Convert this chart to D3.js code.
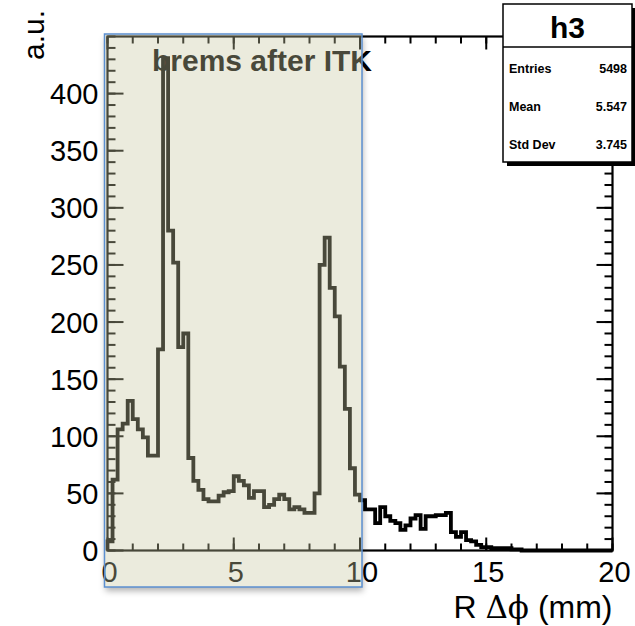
<!DOCTYPE html>
<html><head><meta charset="utf-8">
<script src="https://cdn.jsdelivr.net/npm/d3@7"></script>
<style>body{margin:0;background:#fff} svg{display:block}</style>
</head><body>
<svg id="c" width="635" height="626"></svg>
<script>
// ---- data ----
const histName = "h3";
const histTitle = "brems after ITK";
const yTitle = "a.u.";
const xRange = [0, 20];
const yRange = [0, 450];
const counts = [
  8, 62, 106, 111, 131, 115, 106, 99, 83, 83,
  176, 431, 280, 252, 178, 190, 81, 61, 53, 45,
  43, 43, 48, 51, 52, 65, 61, 57, 46, 52,
  52, 38, 40, 45, 49, 45, 36, 38, 36, 33,
  33, 50, 250, 274, 230, 205, 161, 124, 72, 49,
  44, 36, 36, 24, 38, 30, 26, 24, 18, 22,
  28, 31, 19, 30, 30, 31, 31, 33, 16, 12,
  16, 9, 8, 5, 3, 3, 2, 2, 2, 2,
  1, 1, 0, 0, 0, 0, 0, 0, 0, 0,
  0, 0, 0, 0, 0, 0, 0, 0, 0, 0
];
const xTicks = [0, 5, 10, 15, 20];
const xMinorTicks = d3.range(0, 21, 1);
const yTicks = [0, 50, 100, 150, 200, 250, 300, 350, 400];
const yMinorTicks = d3.range(0, 451, 10);
const statLabels = ["Entries", "Mean", "Std Dev"];
const statValues = ["5498", "5.547", "3.745"];
const bandX = [0, 10];

// ---- layout ----
const L = 107.5, R = 612.5, T = 36.5, B = 550.5;
const svg = d3.select("#c");
const x = d3.scaleLinear().domain(xRange).range([L, R]);
const y = d3.scaleLinear().domain(yRange).range([B, T]);
const font = "'Liberation Sans', Arial, Helvetica, sans-serif";

// title
svg.append("text").attr("x", 262).attr("y", 71).attr("text-anchor", "middle")
  .attr("font-family", font).attr("font-weight", "bold").attr("font-size", 30)
  .attr("fill", "#000").text(histTitle);

// histogram
const bw = (xRange[1] - xRange[0]) / counts.length;
const pts = [[xRange[0], 0]].concat(counts.map((c, i) => [xRange[0] + i * bw, c]));
pts.push([xRange[1], counts[counts.length - 1]]);
const line = d3.line().x(d => x(d[0])).y(d => y(d[1])).curve(d3.curveStepAfter);
svg.append("path").attr("d", line(pts)).attr("fill", "none")
  .attr("stroke", "#000").attr("stroke-width", 3.8).attr("stroke-linejoin", "miter");

// frame
svg.append("rect").attr("x", L).attr("y", T).attr("width", R - L).attr("height", B - T)
  .attr("fill", "none").attr("stroke", "#000").attr("stroke-width", 2.2);

function ticks(g, vals, len, orient) {
  g.selectAll("line").data(vals).join("line")
    .attr("stroke", "#000").attr("stroke-width", 2)
    .each(function (v) {
      const s = d3.select(this);
      if (orient === "b") s.attr("x1", x(v)).attr("x2", x(v)).attr("y1", B).attr("y2", B - len);
      if (orient === "t") s.attr("x1", x(v)).attr("x2", x(v)).attr("y1", T).attr("y2", T + len);
      if (orient === "l") s.attr("y1", y(v)).attr("y2", y(v)).attr("x1", L).attr("x2", L + len);
      if (orient === "r") s.attr("y1", y(v)).attr("y2", y(v)).attr("x1", R).attr("x2", R - len);
    });
}
ticks(svg.append("g"), xMinorTicks, 7, "b");
ticks(svg.append("g"), xTicks, 13, "b");
ticks(svg.append("g"), xMinorTicks, 7, "t");
ticks(svg.append("g"), xTicks, 13, "t");
ticks(svg.append("g"), yMinorTicks, 8, "l");
ticks(svg.append("g"), yTicks, 16, "l");
ticks(svg.append("g"), yMinorTicks, 8, "r");
ticks(svg.append("g"), yTicks, 16, "r");

// tick labels
svg.append("g").selectAll("text").data(yTicks).join("text")
  .attr("x", L - 9).attr("y", d => y(d) + 10.5).attr("text-anchor", "end")
  .attr("font-family", font).attr("font-size", 29).text(d => d);
svg.append("g").selectAll("text").data(xTicks).join("text")
  .attr("x", d => x(d) + 2).attr("y", B + 31).attr("text-anchor", "middle")
  .attr("font-family", font).attr("font-size", 29).text(d => d);

// axis titles
const xt = svg.append("text").attr("x", R).attr("y", 618).attr("text-anchor", "end")
  .attr("font-family", font).attr("font-size", 32);
xt.append("tspan").text("R ");
xt.append("tspan").attr("font-family", "'DejaVu Serif', 'Liberation Serif', serif").attr("font-size", 31).text("Δϕ");
xt.append("tspan").text(" (mm)");
svg.append("text").attr("transform", "translate(44,10) rotate(-90)").attr("text-anchor", "end")
  .attr("font-family", font).attr("font-size", 30).text(yTitle);

// stats box
const sx = 503, sy = 4, sw = 129, sh = 158;
svg.append("rect").attr("x", sx + 4).attr("y", sy + 4).attr("width", sw).attr("height", sh).attr("fill", "#000");
svg.append("rect").attr("x", sx).attr("y", sy).attr("width", sw).attr("height", sh)
  .attr("fill", "#fff").attr("stroke", "#000").attr("stroke-width", 1.5);
svg.append("line").attr("x1", sx).attr("x2", sx + sw).attr("y1", 47).attr("y2", 47)
  .attr("stroke", "#000").attr("stroke-width", 1.5);
svg.append("text").attr("x", sx + sw / 2).attr("y", 38).attr("text-anchor", "middle")
  .attr("font-family", font).attr("font-weight", "bold").attr("font-size", 30).text(histName);
statLabels.forEach((s, i) => {
  const yy = 73 + i * 38;
  svg.append("text").attr("x", sx + 6).attr("y", yy).attr("font-family", font)
    .attr("font-weight", "bold").attr("font-size", 12.5).text(s);
  svg.append("text").attr("x", sx + sw - 5).attr("y", yy).attr("text-anchor", "end")
    .attr("font-family", font).attr("font-weight", "bold").attr("font-size", 12.5).text(statValues[i]);
});

// highlight overlay with outer drop shadow
const ox = x(bandX[0]) - 3, oy = T - 2.5, ow = x(bandX[1]) - x(bandX[0]) + 5, oh = 587 - (T - 2.5);
const defs = svg.append("defs");
defs.append("filter").attr("id", "blur").attr("x", "-20%").attr("y", "-20%").attr("width", "140%").attr("height", "140%")
  .append("feGaussianBlur").attr("stdDeviation", 3);
const m = defs.append("mask").attr("id", "outside");
m.append("rect").attr("width", 635).attr("height", 626).attr("fill", "#fff");
m.append("rect").attr("x", ox).attr("y", oy).attr("width", ow).attr("height", oh).attr("fill", "#000");
svg.append("g").attr("mask", "url(#outside)")
  .append("rect").attr("x", ox + 1).attr("y", oy + 4).attr("width", ow).attr("height", oh)
  .attr("fill", "#000").attr("fill-opacity", 0.3).attr("filter", "url(#blur)");
svg.append("rect")
  .attr("x", ox).attr("y", oy).attr("width", ow).attr("height", oh)
  .attr("fill", "rgb(200,200,160)").attr("fill-opacity", 0.36)
  .attr("stroke", "#5b8fd0").attr("stroke-width", 1.5);
</script>
</body></html>
